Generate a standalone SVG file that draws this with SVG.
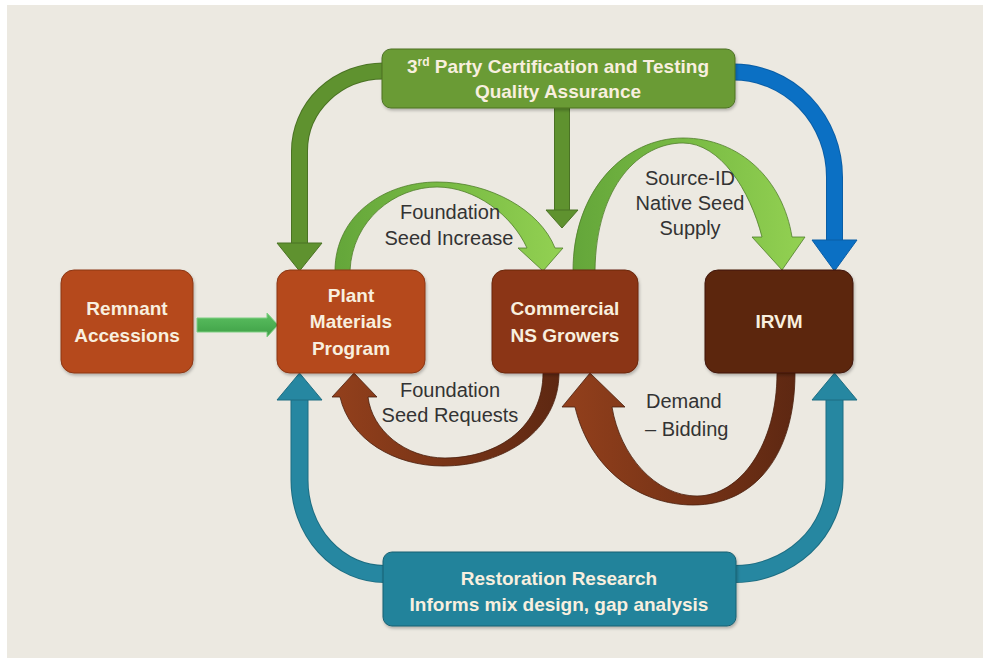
<svg xmlns="http://www.w3.org/2000/svg" width="985" height="663" viewBox="0 0 985 663">
  <defs>
    <linearGradient id="gLight" x1="0" y1="0" x2="1" y2="0">
      <stop offset="0" stop-color="#64a63a"/>
      <stop offset="0.5" stop-color="#79bb44"/>
      <stop offset="1" stop-color="#93d152"/>
    </linearGradient>
    <linearGradient id="gBrown" x1="0" y1="0" x2="1" y2="0">
      <stop offset="0" stop-color="#93401c"/>
      <stop offset="1" stop-color="#5e2812"/>
    </linearGradient>
    <linearGradient id="gRem" x1="0" y1="0" x2="0" y2="1">
      <stop offset="0" stop-color="#5cc061"/>
      <stop offset="1" stop-color="#3d9f45"/>
    </linearGradient>
    <filter id="sh" x="-10%" y="-10%" width="120%" height="130%">
      <feDropShadow dx="1" dy="2" stdDeviation="1.5" flood-color="#000" flood-opacity="0.25"/>
    </filter>
  </defs>
  <style>
    .node { stroke-width: 1; filter: url(#sh); }
    .ntext { font-family: "Liberation Sans", Arial, sans-serif; font-weight: bold; font-size: 19px; fill: #f8efdf; text-anchor: middle; }
    .label { font-family: "Liberation Sans", Arial, sans-serif; font-size: 20px; fill: #333333; text-anchor: middle; }
    .shaft { fill: none; stroke-linecap: butt; }
    .out { stroke-width: 1; }
  </style>

  <rect x="0" y="0" width="985" height="663" fill="#ffffff"/>
  <rect x="7" y="5" width="976" height="653" fill="#ece9e1"/>

  <g id="connectors">
    <!-- 3rd party -> Plant Materials (green, left) -->
    <g id="c-cert-plant">
      <path class="shaft" d="M384,71 A84,80 0 0 0 299.5,151 L299.5,244" stroke="#4a7224" stroke-width="17"/>
      <path class="shaft" d="M384,71 A84,80 0 0 0 299.5,151 L299.5,245" stroke="#5f922f" stroke-width="15"/>
      <polygon points="277,243 322,243 299.5,271" fill="#5f922f" stroke="#4a7224" stroke-width="1"/>
    </g>
    <!-- 3rd party -> Commercial (green, center) -->
    <g id="c-cert-comm">
      <path class="shaft" d="M562,106 L562,211" stroke="#4a7224" stroke-width="16"/>
      <path class="shaft" d="M562,106 L562,212" stroke="#5f922f" stroke-width="14"/>
      <polygon points="546,210 578,210 562,228" fill="#5f922f" stroke="#4a7224" stroke-width="1"/>
    </g>
    <!-- 3rd party -> IRVM (blue) -->
    <g id="c-cert-irvm">
      <path class="shaft" d="M733,72 A101,105 0 0 1 834.5,177 L834.5,241" stroke="#0a5ea6" stroke-width="17"/>
      <path class="shaft" d="M733,72 A101,105 0 0 1 834.5,177 L834.5,242" stroke="#0b70c4" stroke-width="15"/>
      <polygon points="812,240 857,240 834.5,271" fill="#0b70c4" stroke="#0a5ea6" stroke-width="1"/>
    </g>
    <!-- Restoration -> Plant (teal, left) -->
    <g id="c-rest-plant">
      <path class="shaft" d="M385,574 A85,94 0 0 1 299.5,480 L299.5,399" stroke="#1d6d82" stroke-width="18"/>
      <path class="shaft" d="M385,574 A85,94 0 0 1 299.5,480 L299.5,398" stroke="#2687a1" stroke-width="16"/>
      <polygon points="277,400 322,400 299.5,373" fill="#2687a1" stroke="#1d6d82" stroke-width="1"/>
    </g>
    <!-- Restoration -> IRVM (teal, right) -->
    <g id="c-rest-irvm">
      <path class="shaft" d="M734,574 A100,94 0 0 0 834.5,480 L834.5,399" stroke="#1d6d82" stroke-width="18"/>
      <path class="shaft" d="M734,574 A100,94 0 0 0 834.5,480 L834.5,398" stroke="#2687a1" stroke-width="16"/>
      <polygon points="812,400 857,400 834.5,373" fill="#2687a1" stroke="#1d6d82" stroke-width="1"/>
    </g>
    <!-- Remnant -> Plant -->
    <g id="c-rem-plant">
      <path d="M197,318 L267,318 L267,313 L278,325 L267,337 L267,332 L197,332 Z" fill="url(#gRem)" stroke="#7fcf83" stroke-width="1"/>
    </g>
    <!-- Foundation Seed Increase: Plant -> Commercial -->
    <g id="c-plant-comm">
      <path d="M335,271 C335,215 385,182 437,182 C490,182 540,210 555,248 L563,248 L543,271 L518,248 L527,248 C512,215 475,187 437,187 C395,187 352,220 350,271 Z" fill="url(#gLight)" stroke="#4f7d2a" stroke-width="0.8"/>
    </g>
    <!-- Source-ID Native Seed Supply: Commercial -> IRVM -->
    <g id="c-comm-irvm">
      <path d="M573,271 C573,190 625,138 683,138 C740,138 783,180 792,237 L805,237 L782,270 L752,237 L762,237 C750,190 720,143 683,143 C640,143 596,185 595,271 Z" fill="url(#gLight)" stroke="#4f7d2a" stroke-width="0.8"/>
    </g>
    <!-- Foundation Seed Requests: Commercial -> Plant -->
    <g id="c-comm-plant">
      <path d="M340,397 C350,440 395,466 443,466 C505,466 559,430 559,373 L543,373 C543,425 500,458 445,458 C405,458 372,430 368,397 L377,397 L354,373 L332,397 Z" fill="url(#gBrown)" stroke="#4a200e" stroke-width="0.8"/>
    </g>
    <!-- Demand - Bidding: IRVM -> Commercial -->
    <g id="c-irvm-comm">
      <path d="M575,407 C590,470 640,505 693,505 C755,505 795,455 795,373 L777,373 C777,445 740,496 697,496 C655,496 620,455 612,407 L625,407 L590,373 L562,407 Z" fill="url(#gBrown)" stroke="#4a200e" stroke-width="0.8"/>
    </g>
  </g>

  <g id="labels">
    <text class="label" x="450" y="219">Foundation</text>
    <text class="label" x="449" y="245">Seed Increase</text>
    <text class="label" x="690" y="185">Source-ID</text>
    <text class="label" x="690" y="210">Native Seed</text>
    <text class="label" x="690" y="235">Supply</text>
    <text class="label" x="450" y="397">Foundation</text>
    <text class="label" x="450" y="422">Seed Requests</text>
    <text class="label" x="646" y="408" style="text-anchor:start">Demand</text>
    <text class="label" x="645" y="436" style="text-anchor:start">– Bidding</text>
  </g>

  <g id="n-cert">
    <rect class="node" x="382" y="49" width="353" height="59" rx="9" fill="#6b9b35" stroke="#4c7025"/>
    <text class="ntext" x="558" y="73">3<tspan font-size="12" dy="-7">rd</tspan><tspan dy="7"> Party Certification and Testing</tspan></text>
    <text class="ntext" x="558" y="98">Quality Assurance</text>
  </g>
  <g id="n-remnant">
    <rect class="node" x="61" y="270" width="132" height="103" rx="13" fill="#b5481b" stroke="#8c3714"/>
    <text class="ntext" x="127" y="315">Remnant</text>
    <text class="ntext" x="127" y="342">Accessions</text>
  </g>
  <g id="n-plant">
    <rect class="node" x="277" y="270" width="148" height="103" rx="13" fill="#b5481b" stroke="#8c3714"/>
    <text class="ntext" x="351" y="302">Plant</text>
    <text class="ntext" x="351" y="328">Materials</text>
    <text class="ntext" x="351" y="355">Program</text>
  </g>
  <g id="n-commercial">
    <rect class="node" x="492" y="270" width="146" height="103" rx="13" fill="#8b3514" stroke="#6a270e"/>
    <text class="ntext" x="565" y="315">Commercial</text>
    <text class="ntext" x="565" y="342">NS Growers</text>
  </g>
  <g id="n-irvm">
    <rect class="node" x="705" y="270" width="148" height="103" rx="13" fill="#5b2510" stroke="#41190a"/>
    <text class="ntext" x="779" y="328">IRVM</text>
  </g>
  <g id="n-research">
    <rect class="node" x="383" y="552" width="353" height="74" rx="9" fill="#23839b" stroke="#1a6072"/>
    <text class="ntext" x="559" y="585">Restoration Research</text>
    <text class="ntext" x="559" y="611">Informs mix design, gap analysis</text>
  </g>
</svg>
